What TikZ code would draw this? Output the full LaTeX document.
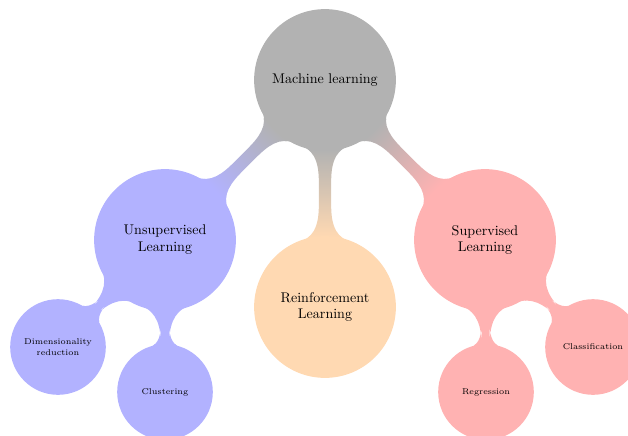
\documentclass[tikz,border=0pt]{standalone}
\usetikzlibrary{mindmap,backgrounds}
\begin{document}
\hyphenpenalty=10000 \exhyphenpenalty=10000
\begin{tikzpicture}[mindmap, x=0.711pt, y=-0.711pt,
  every node/.style={concept, execute at begin node=\hskip0pt},
  bigc/.style={minimum size=99.6pt, text width=80pt, font=\normalsize},
  smallc/.style={minimum size=66.8pt, text width=52pt, font=\fontsize{6}{7.4}\selectfont},
  text=black]
\useasboundingbox (0,0) rectangle (628,435);
\node[bigc, concept color=gray!60] (ml) at (325,80) {Machine learning};
\node[bigc, concept color=blue!30] (un) at (165,240) {Unsupervised Learning};
\node[bigc, concept color=orange!30] (re) at (325,307) {Reinforcement Learning};
\node[bigc, concept color=red!30] (su) at (485,240) {Supervised Learning};
\node[smallc, concept color=blue!30] (dr) at (58,347) {Dimensionality reduction};
\node[smallc, concept color=blue!30] (cl) at (165,392) {Clustering};
\node[smallc, concept color=red!30] (rg) at (486,392) {Regression};
\node[smallc, concept color=red!30] (cf) at (593,347) {Classification};
\begin{scope}[on background layer]
\path (ml) to[circle connection bar switch color=from (gray!60) to (blue!30)] (un);
\path (ml) to[circle connection bar switch color=from (gray!60) to (orange!30)] (re);
\path (ml) to[circle connection bar switch color=from (gray!60) to (red!30)] (su);
\path (un) to[circle connection bar switch color=from (blue!30) to (blue!30)] (dr);
\path (un) to[circle connection bar switch color=from (blue!30) to (blue!30)] (cl);
\path (su) to[circle connection bar switch color=from (red!30) to (red!30)] (rg);
\path (su) to[circle connection bar switch color=from (red!30) to (red!30)] (cf);
\end{scope}
\end{tikzpicture}
\end{document}
